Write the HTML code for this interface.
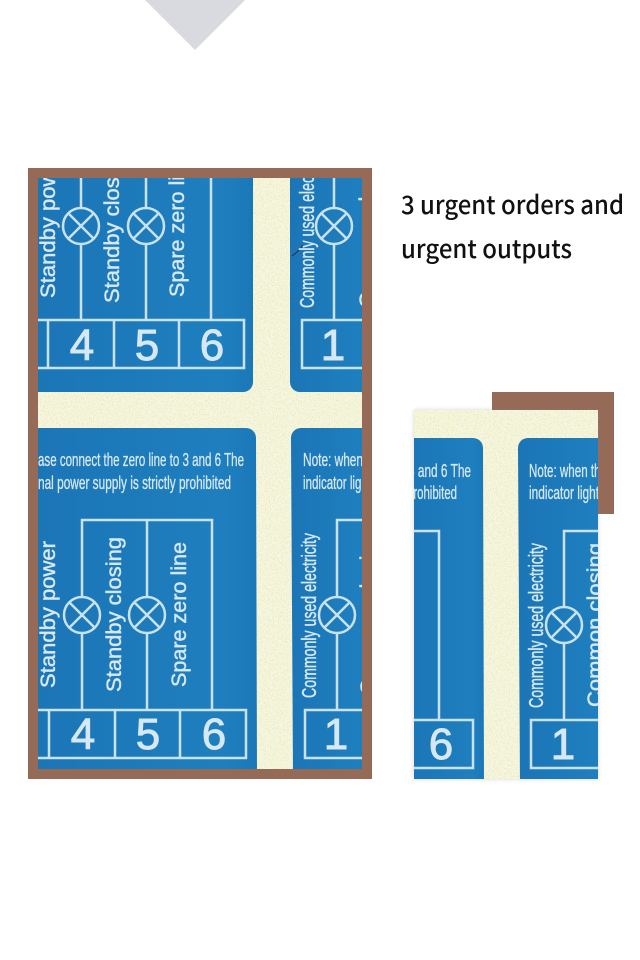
<!DOCTYPE html>
<html><head><meta charset="utf-8"><style>
html,body{margin:0;padding:0;background:#fff;width:640px;height:960px;overflow:hidden}
svg{display:block}
.l{stroke:#c9e2f0;stroke-width:2.5;fill:none}
.t{fill:#d5e8f3;stroke:#d5e8f3;stroke-width:.45;font-family:"Liberation Sans",sans-serif}
.d{font-size:44px;text-anchor:middle;stroke-width:.9}
.v{font-size:21px}
.n{font-size:20px}
.s{font-size:18px;stroke-width:.3}
.h{font-family:"Noto Sans CJK SC","Liberation Sans",sans-serif;font-size:25px;font-weight:500;fill:#111}
</style></head><body>
<svg width="640" height="960" viewBox="0 0 640 960" xmlns="http://www.w3.org/2000/svg">
<defs>
<clipPath id="a"><rect x="38" y="178" width="324" height="591"/></clipPath>
<clipPath id="b"><rect x="414" y="410" width="184" height="369"/></clipPath>
<filter id="sp" x="0" y="0" width="100%" height="100%">
<feTurbulence type="fractalNoise" baseFrequency="0.75" numOctaves="2" seed="4"/>
<feColorMatrix values="0 0 0 0 0.80  0 0 0 0 0.80  0 0 0 0 0.38  4.5 0 0 0 -2.2"/>
</filter>
<filter id="sb" x="0" y="0" width="100%" height="100%">
<feTurbulence type="fractalNoise" baseFrequency="0.35" numOctaves="2" seed="9"/>
<feColorMatrix values="0 0 0 0 0.05  0 0 0 0 0.30  0 0 0 0 0.55  3 0 0 0 -1.4"/>
</filter>
<filter id="ds" x="-5%" y="-5%" width="110%" height="110%"><feGaussianBlur stdDeviation="2"/></filter>
<linearGradient id="bl" x1="0" x2="1" y1="0" y2="0"><stop offset="0" stop-color="#1b75b6"/><stop offset=".85" stop-color="#1f7fbe"/><stop offset="1" stop-color="#1b78b8"/></linearGradient>
</defs>
<rect width="640" height="960" fill="#fff"/>
<polygon points="145,0 245,0 195,50" fill="#d9d9e0"/>
<rect x="28" y="168" width="344" height="611" fill="#956a57"/>
<g clip-path="url(#a)">
<rect x="38" y="178" width="324" height="591" fill="#f6f6e4"/>
<rect x="38" y="178" width="324" height="591" filter="url(#sp)" opacity=".8"/>
<path d="M30 170H253V382a10 10 0 0 1-10 10H30Z" fill="url(#bl)"/>
<path d="M290 170H370V392H300a10 10 0 0 1-10-10Z" fill="url(#bl)"/>
<path d="M30 428H246a10 10 0 0 1 10 10L257 775H30Z" fill="url(#bl)"/>
<path d="M370 428H301a10 10 0 0 0-10 10L293 775H370Z" fill="url(#bl)"/>
<path d="M292 256C296 253 300 250 303 245" stroke="#234" stroke-width="1" fill="none"/>

<path class="l" d="M30 320H244V368H30M48 320V368M114 320V368M179 320V368"/>
<path class="l" d="M81 178V208M81 244V320M146 178V208M146 244V320M211 178V320"/>
<circle class="l" cx="81" cy="226" r="18"/><path class="l" d="M68 213L94 239M94 213L68 239"/>
<circle class="l" cx="146" cy="226" r="18"/><path class="l" d="M133 213L159 239M159 213L133 239"/>
<path class="l" d="M370 320H302V368H370M334 178V208M334 244V320"/>
<circle class="l" cx="334" cy="226" r="18"/><path class="l" d="M321 213L347 239M347 213L321 239"/>
<text class="t d" x="82" y="360">4</text><text class="t d" x="147" y="360">5</text><text class="t d" x="212" y="360">6</text><text class="t d" x="333" y="360">1</text>
<text class="t v" transform="translate(55,298) rotate(-90)" textLength="147" lengthAdjust="spacingAndGlyphs">Standby power</text>
<text class="t v" transform="translate(119,303) rotate(-90)" textLength="155" lengthAdjust="spacingAndGlyphs">Standby closing</text>
<text class="t v" transform="translate(184,297) rotate(-90)" textLength="145" lengthAdjust="spacingAndGlyphs">Spare zero line</text>
<text class="t n" transform="translate(314,308) rotate(-90)" textLength="165" lengthAdjust="spacingAndGlyphs">Commonly used electricity</text>
<text class="t v" transform="translate(374,308) rotate(-90)" textLength="164" lengthAdjust="spacingAndGlyphs">Common closing</text>

<text class="t s" x="38" y="466" textLength="206" lengthAdjust="spacingAndGlyphs">ase connect the zero line to 3 and 6 The</text>
<text class="t s" x="38" y="489" textLength="193" lengthAdjust="spacingAndGlyphs">nal power supply is strictly prohibited</text>
<text class="t s" x="303" y="466" textLength="60" lengthAdjust="spacingAndGlyphs">Note: when</text>
<text class="t s" x="303" y="489" textLength="68" lengthAdjust="spacingAndGlyphs">indicator light</text>
<path class="l" d="M212 710V520H82V597M82 633V710M147 520V597M147 633V710"/>
<circle class="l" cx="82" cy="615" r="18"/><path class="l" d="M69 602L95 628M95 602L69 628"/>
<circle class="l" cx="147" cy="615" r="18"/><path class="l" d="M134 602L160 628M160 602L134 628"/>
<path class="l" d="M30 710H246V758H30M49 710V758M115 710V758M180 710V758"/>
<path class="l" d="M370 520H337V597M337 633V710M370 710H305V758H370"/>
<circle class="l" cx="337" cy="615" r="18"/><path class="l" d="M324 602L350 628M350 602L324 628"/>
<text class="t d" x="83" y="749">4</text><text class="t d" x="148" y="749">5</text><text class="t d" x="214" y="749">6</text><text class="t d" x="336" y="749">1</text>
<text class="t v" transform="translate(55,688) rotate(-90)" textLength="147" lengthAdjust="spacingAndGlyphs">Standby power</text>
<text class="t v" transform="translate(121,692) rotate(-90)" textLength="155" lengthAdjust="spacingAndGlyphs">Standby closing</text>
<text class="t v" transform="translate(186,687) rotate(-90)" textLength="145" lengthAdjust="spacingAndGlyphs">Spare zero line</text>
<text class="t n" transform="translate(316,698) rotate(-90)" textLength="165" lengthAdjust="spacingAndGlyphs">Commonly used electricity</text>
<text class="t v" transform="translate(375,695) rotate(-90)" textLength="164" lengthAdjust="spacingAndGlyphs">Common closing</text>
</g>

<rect x="492" y="392" width="122" height="122" fill="#956a57"/>
<rect x="414" y="410" width="184" height="369" fill="#888" opacity=".35" filter="url(#ds)"/>
<g clip-path="url(#b)">
<rect x="414" y="410" width="184" height="369" fill="#f6f6e4"/>
<rect x="414" y="410" width="184" height="369" filter="url(#sp)" opacity=".8"/>
<path d="M405 438H473a10 10 0 0 1 10 10L484 785H405Z" fill="url(#bl)"/>
<path d="M610 438H528a10 10 0 0 0-10 10L520 785H610Z" fill="url(#bl)"/>
<text class="t s" x="471" y="477" text-anchor="end" textLength="63" lengthAdjust="spacingAndGlyphs">3 and 6 The</text>
<text class="t s" x="457" y="499" text-anchor="end" textLength="50" lengthAdjust="spacingAndGlyphs">prohibited</text>
<text class="t s" x="529" y="477" textLength="78" lengthAdjust="spacingAndGlyphs">Note: when the</text>
<text class="t s" x="529" y="499" textLength="70" lengthAdjust="spacingAndGlyphs">indicator light</text>
<path class="l" d="M405 531H439V720M405 720H473V768H405"/>
<text class="t d" x="441" y="759">6</text>
<path class="l" d="M610 531H564V607M564 643V720M610 720H531V768H610"/>
<circle class="l" cx="564" cy="625" r="18"/><path class="l" d="M551 612L577 638M577 612L551 638"/>
<text class="t d" x="563" y="759">1</text>
<text class="t n" transform="translate(543,708) rotate(-90)" textLength="165" lengthAdjust="spacingAndGlyphs">Commonly used electricity</text>
<text class="t v" transform="translate(602,707) rotate(-90)" textLength="164" lengthAdjust="spacingAndGlyphs">Common closing</text>
</g>

<text class="h" x="401" y="214" textLength="223" lengthAdjust="spacingAndGlyphs">3 urgent orders and</text>
<text class="h" x="401" y="258" textLength="171" lengthAdjust="spacingAndGlyphs">urgent outputs</text>
</svg>
</body></html>
